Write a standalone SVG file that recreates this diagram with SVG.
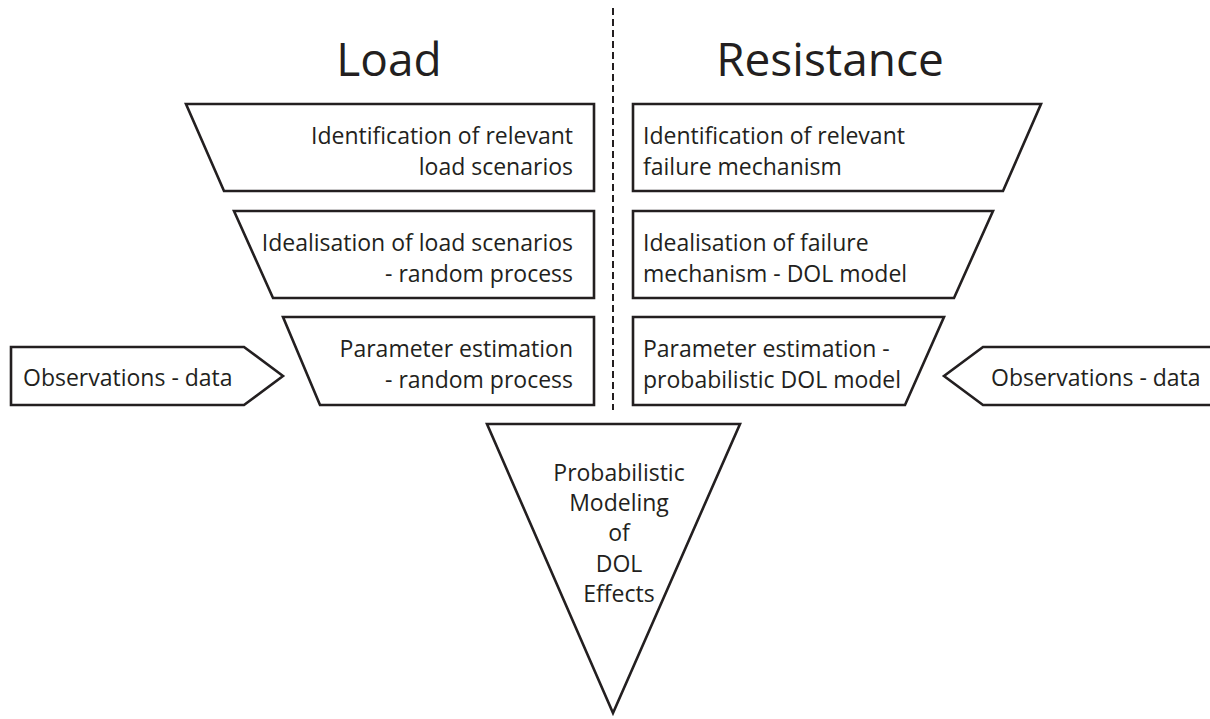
<svg xmlns="http://www.w3.org/2000/svg" width="1210" height="719" viewBox="0 0 1210 719">
  <style>
    .shape { fill: #ffffff; stroke: #231f20; stroke-width: 2.6; stroke-linejoin: miter; }
    .txt { font-family: "Open Sans", "Noto Sans", "Liberation Sans", sans-serif; font-size: 23px; fill: #231f20; }
    .end { text-anchor: end; }
    .mid { text-anchor: middle; }
    .title { font-family: "Open Sans", "Noto Sans", "Liberation Sans", sans-serif; font-size: 46px; fill: #231f20; text-anchor: middle; }
    .divider { stroke: #231f20; stroke-width: 2; stroke-dasharray: 7 4; fill: none; }
  </style>

  <g id="connectors">
    <line class="divider" x1="613" y1="8" x2="613" y2="410"/>
  </g>

  <g id="title-load"><text class="title" x="389" y="76">Load</text></g>
  <g id="title-resistance"><text class="title" x="830" y="76">Resistance</text></g>

  <!-- Load side -->
  <g id="load-identification">
    <polygon class="shape" points="186,104 594,104 594,191 224,191"/>
    <text class="txt end" x="573" y="144">Identification of relevant</text>
    <text class="txt end" x="573" y="175">load scenarios</text>
  </g>
  <g id="load-idealisation">
    <polygon class="shape" points="234,211 594,211 594,298 273,298"/>
    <text class="txt end" x="573" y="251">Idealisation of load scenarios</text>
    <text class="txt end" x="573" y="282">- random process</text>
  </g>
  <g id="load-parameter">
    <polygon class="shape" points="283,317 594,317 594,405 320,405"/>
    <text class="txt end" x="573" y="357">Parameter estimation</text>
    <text class="txt end" x="573" y="388">- random process</text>
  </g>
  <g id="load-observations">
    <polygon class="shape" points="11,347 244,347 283,376 244,405 11,405"/>
    <text class="txt" x="23" y="386">Observations - data</text>
  </g>

  <!-- Resistance side -->
  <g id="resistance-identification">
    <polygon class="shape" points="633,104 1041,104 1003,191 633,191"/>
    <text class="txt" x="643" y="144">Identification of relevant</text>
    <text class="txt" x="643" y="175">failure mechanism</text>
  </g>
  <g id="resistance-idealisation">
    <polygon class="shape" points="633,211 993,211 954,298 633,298"/>
    <text class="txt" x="643" y="251">Idealisation of failure</text>
    <text class="txt" x="643" y="282">mechanism - DOL model</text>
  </g>
  <g id="resistance-parameter">
    <polygon class="shape" points="633,317 944,317 905,405 633,405"/>
    <text class="txt" x="643" y="357">Parameter estimation -</text>
    <text class="txt" x="643" y="388">probabilistic DOL model</text>
  </g>
  <g id="resistance-observations">
    <polygon class="shape" points="1212,347 983,347 944,376 983,405 1212,405"/>
    <text class="txt" x="991" y="386">Observations - data</text>
  </g>

  <!-- Combined model -->
  <g id="probabilistic-modeling">
    <polygon class="shape" points="487,424 740,424 613,713"/>
    <text class="txt mid" x="619" y="481">Probabilistic</text>
    <text class="txt mid" x="619" y="511">Modeling</text>
    <text class="txt mid" x="619" y="541">of</text>
    <text class="txt mid" x="619" y="572">DOL</text>
    <text class="txt mid" x="619" y="602">Effects</text>
  </g>
</svg>
